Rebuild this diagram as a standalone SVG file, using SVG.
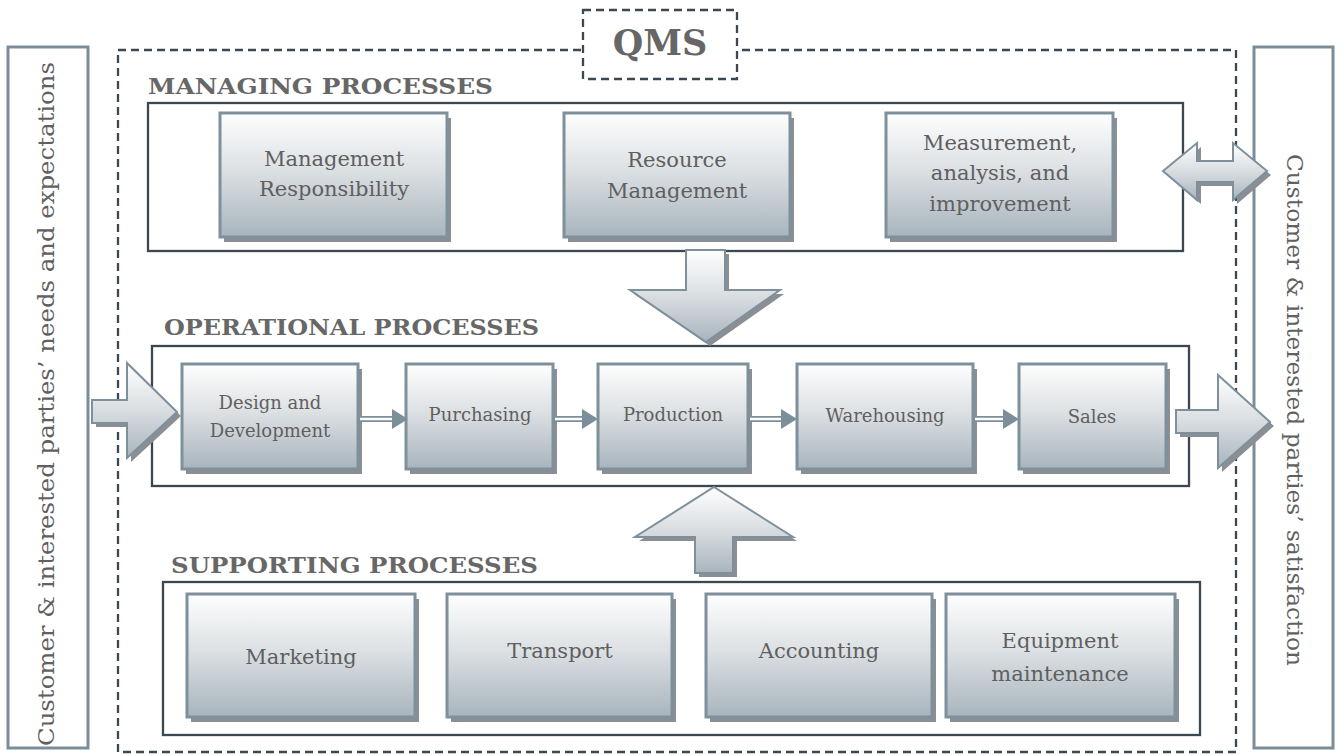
<svg xmlns="http://www.w3.org/2000/svg" width="1343" height="755" viewBox="0 0 1343 755">
<defs>
<linearGradient id="g" x1="0" y1="0" x2="0" y2="1">
<stop offset="0" stop-color="#fefefe"/>
<stop offset="0.45" stop-color="#dde1e4"/>
<stop offset="1" stop-color="#a8b4bd"/>
</linearGradient>
<style>
.side{fill:#fff;stroke:#7b8d99;stroke-width:3}
.dash{fill:none;stroke:#3c4851;stroke-width:2.3;stroke-dasharray:8 5}
.grp{fill:#fff;stroke:#3c4851;stroke-width:2.3}
.box{fill:url(#g);stroke:#7d909c;stroke-width:3}
.shd{fill:#8b8f93}
.arr{fill:url(#g);stroke:#7d909c;stroke-width:2}
.t{font-family:"DejaVu Serif",Georgia,serif;fill:#5f5f5f;text-anchor:middle}
.lbl{font-family:"DejaVu Serif",Georgia,serif;font-weight:bold;fill:#676767;font-size:23px}
.st{font-family:"DejaVu Serif",Georgia,serif;fill:#606060;font-size:22px;text-anchor:middle}
.link{fill:none;stroke:#7b8e9a;stroke-width:6}
.linkin{fill:none;stroke:#fff;stroke-width:2.5}
.head{fill:#7b8e9a}
</style>
</defs>
<rect width="1343" height="755" fill="#fff"/>

<g id="left-panel">
<rect class="side" x="8" y="47" width="80" height="701"/>
<text class="st" transform="translate(54,404) rotate(-90)" textLength="684" lengthAdjust="spacingAndGlyphs">Customer &amp; interested parties’ needs and expectations</text>
</g>
<g id="right-panel">
<rect class="side" x="1254" y="47" width="79" height="701"/>
<text class="st" transform="translate(1287,410) rotate(90)" textLength="512" lengthAdjust="spacingAndGlyphs">Customer &amp; interested parties’ satisfaction</text>
</g>

<g id="qms">
<rect class="dash" x="118" y="50" width="1118" height="702"/>
<rect class="dash" x="583" y="10" width="154" height="69" style="fill:#fff"/>
<text x="660" y="55" font-family="DejaVu Serif,Georgia,serif" font-weight="bold" font-size="35" fill="#666" text-anchor="middle">QMS</text>
</g>

<g id="managing">
<text class="lbl" x="148" y="94" textLength="345" lengthAdjust="spacingAndGlyphs">MANAGING PROCESSES</text>
<rect class="grp" x="148" y="103" width="1035" height="148"/>
</g>
<g id="operational">
<text class="lbl" x="164" y="335" textLength="375" lengthAdjust="spacingAndGlyphs">OPERATIONAL PROCESSES</text>
<rect class="grp" x="152" y="346" width="1037" height="140"/>
</g>
<g id="supporting">
<text class="lbl" x="171" y="573" textLength="367" lengthAdjust="spacingAndGlyphs">SUPPORTING PROCESSES</text>
<rect class="grp" x="163" y="582" width="1037" height="153"/>
</g>

<g id="management-responsibility">
<rect class="shd" x="224" y="118" width="227" height="124"/>
<rect class="box" x="220" y="113" width="227" height="124"/>
<text class="t" font-size="21" x="334" y="166">Management</text>
<text class="t" font-size="21" x="334" y="196">Responsibility</text>
</g>
<g id="resource-management">
<rect class="shd" x="568" y="118" width="226" height="124"/>
<rect class="box" x="564" y="113" width="226" height="124"/>
<text class="t" font-size="21" x="677" y="167">Resource</text>
<text class="t" font-size="21" x="677" y="198">Management</text>
</g>
<g id="measurement">
<rect class="shd" x="890" y="118" width="227" height="124"/>
<rect class="box" x="886" y="113" width="227" height="124"/>
<text class="t" font-size="21" x="1000" y="150">Measurement,</text>
<text class="t" font-size="21" x="1000" y="180">analysis, and</text>
<text class="t" font-size="21" x="1000" y="211">improvement</text>
</g>

<g id="design">
<rect class="shd" x="186" y="369" width="176" height="105"/>
<rect class="box" x="182" y="364" width="176" height="105"/>
<text class="t" font-size="18" x="270" y="409">Design and</text>
<text class="t" font-size="18" x="270" y="437">Development</text>
</g>
<g id="purchasing">
<rect class="shd" x="410" y="369" width="147" height="105"/>
<rect class="box" x="406" y="364" width="147" height="105"/>
<text class="t" font-size="18" x="480" y="421">Purchasing</text>
</g>
<g id="production">
<rect class="shd" x="602" y="369" width="150" height="105"/>
<rect class="box" x="598" y="364" width="150" height="105"/>
<text class="t" font-size="18" x="673" y="421">Production</text>
</g>
<g id="warehousing">
<rect class="shd" x="801" y="369" width="176" height="105"/>
<rect class="box" x="797" y="364" width="176" height="105"/>
<text class="t" font-size="18" x="885" y="422">Warehousing</text>
</g>
<g id="sales">
<rect class="shd" x="1023" y="369" width="147" height="105"/>
<rect class="box" x="1019" y="364" width="147" height="105"/>
<text class="t" font-size="18" x="1092" y="423">Sales</text>
</g>

<g id="marketing">
<rect class="shd" x="191" y="599" width="228" height="123"/>
<rect class="box" x="187" y="594" width="228" height="123"/>
<text class="t" font-size="21" x="301" y="664">Marketing</text>
</g>
<g id="transport">
<rect class="shd" x="451" y="599" width="225" height="123"/>
<rect class="box" x="447" y="594" width="225" height="123"/>
<text class="t" font-size="21" x="560" y="658">Transport</text>
</g>
<g id="accounting">
<rect class="shd" x="710" y="599" width="226" height="123"/>
<rect class="box" x="706" y="594" width="226" height="123"/>
<text class="t" font-size="21" x="819" y="658">Accounting</text>
</g>
<g id="equipment">
<rect class="shd" x="950" y="599" width="229" height="123"/>
<rect class="box" x="946" y="594" width="229" height="123"/>
<text class="t" font-size="21" x="1060" y="648">Equipment</text>
<text class="t" font-size="21" x="1060" y="681">maintenance</text>
</g>

<g id="connectors">
<path class="shd" transform="translate(4,4)" d="M92,400 L127,400 L127,363 L177,412 L127,458 L127,423 L92,423 Z"/>
<path class="arr" d="M92,400 L127,400 L127,363 L177,412 L127,458 L127,423 L92,423 Z"/>
<path class="shd" transform="translate(4,4)" d="M1176,410 L1218,410 L1218,375 L1270,422 L1218,468 L1218,433 L1176,433 Z"/>
<path class="arr" d="M1176,410 L1218,410 L1218,375 L1270,422 L1218,468 L1218,433 L1176,433 Z"/>
<path class="shd" transform="translate(4,4)" d="M686,250 L725,250 L725,290 L780,290 L706,342 L630,290 L686,290 Z"/>
<path class="arr" d="M686,250 L725,250 L725,290 L780,290 L706,342 L630,290 L686,290 Z"/>
<path class="shd" transform="translate(4,4)" d="M714,487 L793,537 L733,537 L733,573 L695,573 L695,537 L635,537 Z"/>
<path class="arr" d="M714,487 L793,537 L733,537 L733,573 L695,573 L695,537 L635,537 Z"/>
<path class="shd" transform="translate(4,4)" d="M1163,171 L1197,143 L1197,161 L1233,161 L1233,143 L1267,171 L1233,200 L1233,182 L1197,182 L1197,200 Z"/>
<path class="arr" d="M1163,171 L1197,143 L1197,161 L1233,161 L1233,143 L1267,171 L1233,200 L1233,182 L1197,182 L1197,200 Z"/>

<path class="link" d="M360,419 H394"/><path class="linkin" d="M360,419 H394"/><path class="head" d="M392,409 L408,419 L392,429 Z"/>
<path class="link" d="M555,419 H584"/><path class="linkin" d="M555,419 H584"/><path class="head" d="M582,409 L598,419 L582,429 Z"/>
<path class="link" d="M750,419 H783"/><path class="linkin" d="M750,419 H783"/><path class="head" d="M781,409 L797,419 L781,429 Z"/>
<path class="link" d="M975,419 H1005"/><path class="linkin" d="M975,419 H1005"/><path class="head" d="M1003,409 L1019,419 L1003,429 Z"/>
</g>
</svg>
